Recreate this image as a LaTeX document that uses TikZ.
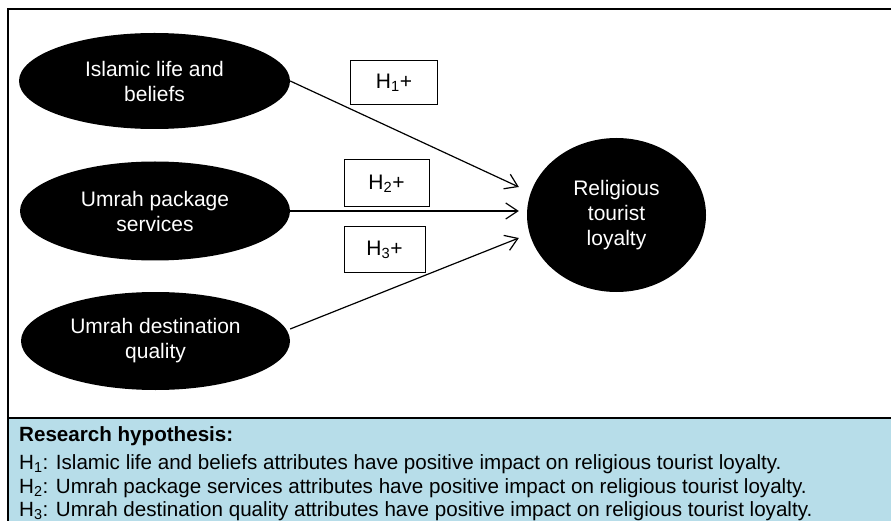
\documentclass[tikz,border=0pt]{standalone}
\usepackage{fontspec}
\setmainfont{Liberation Sans}
\usetikzlibrary{arrows.meta, shapes.geometric}
\definecolor{hypblue}{RGB}{183,221,233}

\begin{document}
\begin{tikzpicture}[x=1pt, y=1pt, font=\fontsize{21}{25}\selectfont,
  construct/.style={ellipse, fill=black, text=white, align=center, inner sep=0pt},
  hbox/.style={draw, line width=1pt, inner sep=0pt},
  hyparrow/.style={line width=1.2pt, -{Straight Barb[length=12pt, width=16pt, line width=1.2pt]}},
  hypline/.style={anchor=base west, inner sep=0pt, font=\fontsize{20.6}{24.5}\selectfont}]
\useasboundingbox (0,0) rectangle (891,-521);
\clip (0,0) rectangle (891,-521);
\fill[hypblue] (8,-418) rectangle (900,-530);
\draw[line width=1.2pt] (8,-530) |- (900,-9);
\draw[line width=1.2pt] (8,-418) -- (900,-418);
\node[construct, minimum width=271, minimum height=96] (islam) at (154.5,-81) {Islamic life and\\beliefs};
\node[construct, minimum width=270, minimum height=99] (pkg) at (155,-211) {Umrah package\\services};
\node[construct, minimum width=269, minimum height=98] (dest) at (155.5,-341) {Umrah destination\\quality};
\node[construct, minimum width=179, minimum height=154] (loyal) at (616.5,-215) {Religious\\tourist\\loyalty};
\node[hbox, minimum width=87, minimum height=44] (h1) at (394,-83) {H\textsubscript{1}+};
\node[hbox, minimum width=85, minimum height=47] (h2) at (386.5,-183.5) {H\textsubscript{2}+};
\node[hbox, minimum width=81, minimum height=46] (h3) at (384.5,-250) {H\textsubscript{3}+};
\draw[hyparrow] (islam.east) -- ([shift={(-8,28)}]loyal.west);
\draw[hyparrow] (pkg.east) -- ([shift={(-8,4)}]loyal.west);
\draw[hyparrow] ([yshift=12pt]dest.east) -- ([shift={(-8,-23)}]loyal.west);
\node[hypline] (hyptitle) at (19,-441) {\textbf{Research hypothesis:}};
\node[hypline] (hyp1) at (19,-469.5) {H\textsubscript{1}: Islamic life and beliefs attributes have positive impact on religious tourist loyalty.};
\node[hypline] (hyp2) at (19,-493.5) {H\textsubscript{2}: Umrah package services attributes have positive impact on religious tourist loyalty.};
\node[hypline] (hyp3) at (19,-516.3) {H\textsubscript{3}: Umrah destination quality attributes have positive impact on religious tourist loyalty.};
\end{tikzpicture}
\end{document}
